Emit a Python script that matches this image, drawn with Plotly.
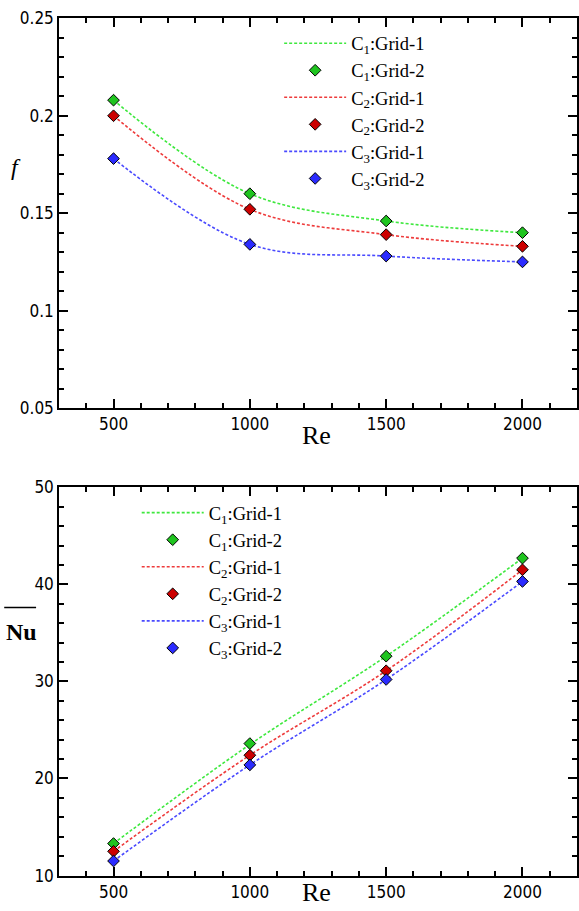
import plotly.graph_objects as go

# ---- data ----
re_vals = [500, 1000, 1500, 2000]

f_c1_grid1 = [0.208, 0.160, 0.146, 0.140]
f_c1_grid2 = [0.208, 0.160, 0.146, 0.140]
f_c2_grid1 = [0.200, 0.152, 0.139, 0.133]
f_c2_grid2 = [0.200, 0.152, 0.139, 0.133]
f_c3_grid1 = [0.178, 0.134, 0.128, 0.125]
f_c3_grid2 = [0.178, 0.134, 0.128, 0.125]

nu_c1_grid1 = [13.3, 23.5, 32.6, 42.7]
nu_c1_grid2 = [13.3, 23.6, 32.6, 42.7]
nu_c2_grid1 = [12.5, 22.4, 31.1, 41.5]
nu_c2_grid2 = [12.5, 22.4, 31.1, 41.5]
nu_c3_grid1 = [11.5, 21.4, 30.2, 40.3]
nu_c3_grid2 = [11.5, 21.4, 30.2, 40.3]

series_names = ["C<sub>1</sub>:Grid-1", "C<sub>1</sub>:Grid-2",
                "C<sub>2</sub>:Grid-1", "C<sub>2</sub>:Grid-2",
                "C<sub>3</sub>:Grid-1", "C<sub>3</sub>:Grid-2"]

line_colors = ["#3ee83e", "#ee3b3b", "#4a4aff"]
marker_colors = ["#1fc41f", "#cc0000", "#2b2bff"]

W, H = 579, 911
L = 59

fig = go.Figure()

def add_group(yvals_pairs, xaxis, yaxis, legend):
    for i, (yl, ym) in enumerate(yvals_pairs):
        fig.add_trace(go.Scatter(
            x=re_vals, y=yl, mode="lines", name=series_names[2 * i],
            line=dict(color=line_colors[i], width=1.6, dash="3px,2px", shape="spline", smoothing=1.0),
            xaxis=xaxis, yaxis=yaxis, legend=legend))
        fig.add_trace(go.Scatter(
            x=re_vals, y=ym, mode="markers", name=series_names[2 * i + 1],
            marker=dict(symbol="diamond", size=9, color=marker_colors[i],
                        line=dict(color="black", width=1)),
            xaxis=xaxis, yaxis=yaxis, legend=legend))

add_group([(f_c1_grid1, f_c1_grid2), (f_c2_grid1, f_c2_grid2), (f_c3_grid1, f_c3_grid2)],
          "x", "y", "legend")
add_group([(nu_c1_grid1, nu_c1_grid2), (nu_c2_grid1, nu_c2_grid2), (nu_c3_grid1, nu_c3_grid2)],
          "x2", "y2", "legend2")

tickfont = dict(family="Liberation Sans Narrow, DejaVu Sans Condensed, Arial", size=17, color="black")

def xax(anchor):
    return dict(range=[300, 2200], domain=[0, 1], anchor=anchor,
                tickvals=[500, 1000, 1500, 2000], ticks="inside", ticklen=9, tickwidth=1.5,
                tickcolor="black", showline=True, linecolor="black", linewidth=1.5,
                mirror="ticks", showgrid=False, zeroline=False, tickfont=tickfont,
                minor=dict(dtick=100, tick0=0, ticks="inside", ticklen=5, tickcolor="black",
                           tickwidth=1.5, showgrid=False))

def yax(rng, dom, dtick, mdtick, anchor):
    return dict(range=rng, domain=dom, anchor=anchor, dtick=dtick, tick0=rng[0],
                ticks="inside", ticklen=9, tickwidth=1.5, tickcolor="black",
                showline=True, linecolor="black", linewidth=1.5, mirror="ticks",
                showgrid=False, zeroline=False, tickfont=tickfont,
                minor=dict(dtick=mdtick, tick0=rng[0], ticks="inside", ticklen=5,
                           tickcolor="black", tickwidth=1.5, showgrid=False))

def py(px):
    return 1 - px / H

def pxx(px):
    return (px - L) / (W - L)

serif = "Liberation Serif, Times New Roman, serif"
legfont = dict(family=serif, size=18.5, color="black")

fig.update_layout(
    width=W, height=H,
    margin=dict(l=L, r=0, t=0, b=0),
    paper_bgcolor="white", plot_bgcolor="white",
    xaxis=xax("y"),
    yaxis=yax([0.05, 0.25], [py(407), py(8.5)], 0.05, 0.01, "x"),
    xaxis2=xax("y2"),
    yaxis2=yax([10, 50], [py(885), py(488)], 10, 2, "x2"),
    legend=dict(x=pxx(280), y=py(15), xanchor="left", yanchor="top",
                bgcolor="rgba(0,0,0,0)", font=legfont, tracegroupgap=0, itemwidth=62),
    legend2=dict(x=pxx(137), y=py(495), xanchor="left", yanchor="top",
                 bgcolor="rgba(0,0,0,0)", font=legfont, tracegroupgap=0, itemwidth=62),
    showlegend=True,
)

fig.add_annotation(text="<i>f</i>", x=pxx(16), y=py(161), xref="paper", yref="paper",
                   xanchor="center", yanchor="middle",
                   showarrow=False, font=dict(family=serif, size=24, color="black"))
fig.add_annotation(text="Re", x=pxx(317), y=py(435), xref="paper", yref="paper",
                   xanchor="center", yanchor="middle",
                   showarrow=False, font=dict(family=serif, size=26, color="black"))
fig.add_annotation(text="Re", x=pxx(317), y=py(902), xref="paper", yref="paper",
                   xanchor="center", yanchor="middle",
                   showarrow=False, font=dict(family=serif, size=26, color="black"))
fig.add_annotation(text="<b>Nu</b>", x=pxx(21), y=py(636), xref="paper", yref="paper",
                   xanchor="center", yanchor="middle",
                   showarrow=False, font=dict(family=serif, size=24, color="black"))
fig.add_shape(type="line", xref="paper", yref="paper", x0=pxx(4), x1=pxx(36),
              y0=py(611), y1=py(611), line=dict(color="black", width=1.5))

fig.write_html("out.html", config={"displayModeBar": False},
               post_script="document.body.style.margin='0';document.body.style.overflow='hidden';")
